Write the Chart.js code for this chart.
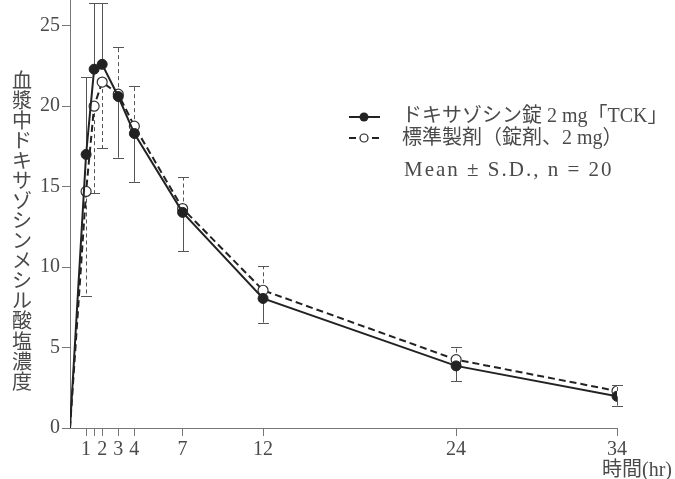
<!DOCTYPE html>
<html>
<head>
<meta charset="utf-8">
<script src="https://cdn.jsdelivr.net/npm/chart.js@4/dist/chart.umd.min.js"></script>
<style>
  html, body { margin: 0; padding: 0; background: #fff; }
  #wrap { width: 675px; height: 479px; }
</style>
</head>
<body>
<div id="wrap"><canvas id="pkChart" width="675" height="479"></canvas></div>
<script>
// sampling times (hr)
var times = [0, 1, 1.5, 2, 3, 4, 7, 12, 24, 34];

// ドキサゾシン錠2mg「TCK」
var tckMean = [0, 17.0, 22.3, 22.6, 20.6, 18.3, 13.4, 8.05, 3.86, 1.97];
var tckSD = [0, 4.8, 4.1, 3.8, 3.8, 3.0, 2.4, 1.5, 0.95, 0.58];
var tckSide = [0, 1, 1, 1, -1, -1, -1, -1, -1, -1];

// 標準製剤（錠剤、2mg）
var refMean = [0, 14.7, 20.0, 21.5, 20.75, 18.76, 13.64, 8.56, 4.25, 2.3];
var refSD = [0, 6.5, 5.4, 4.1, 2.9, 2.5, 1.95, 1.5, 0.8, 0.4];
var refSide = [0, -1, -1, -1, 1, 1, 1, 1, 1, 1];

var xTicks = [1, 1.5, 2, 3, 4, 7, 12, 24, 34];
var xTickLabels = ['1', '', '2', '3', '4', '7', '12', '24', '34'];
var yTicks = [0, 5, 10, 15, 20, 25];

var yTitle = '血漿中ドキサゾシンメシル酸塩濃度';
var xTitle = '時間(hr)';
var legendTck = 'ドキサゾシン錠 2 mg「TCK」';
var legendRef = '標準製剤（錠剤、2 mg）';
var noteText = 'Mean ± S.D., n = 20';

var numFont = '"Liberation Serif", "Noto Sans CJK JP", serif';
var ink = '#222';
var axisGrey = '#777';
var textGrey = '#4a4a4a';

function toPoints(mean) {
  return times.map(function(t, i) { return { x: t, y: mean[i] }; });
}

var errorBarPlugin = {
  id: 'errorBars',
  beforeDatasetsDraw: function(chart) {
    var ctx = chart.ctx;
    var xs = chart.scales.x, ys = chart.scales.y;
    var sets = [
      { mean: tckMean, sd: tckSD, side: tckSide, dash: [] },
      { mean: refMean, sd: refSD, side: refSide, dash: [4, 3] }
    ];
    ctx.save();
    ctx.strokeStyle = '#555';
    ctx.lineWidth = 1;
    sets.forEach(function(s) {
      ctx.setLineDash(s.dash);
      times.forEach(function(t, i) {
        if (!s.sd[i]) return;
        var px = Math.round(xs.getPixelForValue(t)) + 0.5;
        var y0 = ys.getPixelForValue(s.mean[i]);
        var y1 = ys.getPixelForValue(s.mean[i] + s.side[i] * s.sd[i]);
        ctx.beginPath();
        ctx.moveTo(px, y0);
        ctx.lineTo(px, y1);
        ctx.stroke();
        ctx.setLineDash([]);
        ctx.beginPath();
        ctx.moveTo(px - 5.5, Math.round(y1) + 0.5);
        ctx.lineTo(px + 5.5, Math.round(y1) + 0.5);
        ctx.stroke();
        ctx.setLineDash(s.dash);
      });
    });
    ctx.restore();
  }
};

var textPlugin = {
  id: 'extraText',
  afterDraw: function(chart) {
    var ctx = chart.ctx;
    ctx.save();
    // vertical y-axis title, upright characters
    ctx.fillStyle = textGrey;
    ctx.font = '20px "Noto Sans CJK JP"';
    ctx.textAlign = 'center';
    ctx.textBaseline = 'middle';
    Array.from(yTitle).forEach(function(ch, i) {
      ctx.fillText(ch, 22, 80 + i * 20.07);
    });

    // x-axis unit label
    ctx.font = '20px ' + numFont;
    ctx.textAlign = 'right';
    ctx.fillText(xTitle, 672, 471);

    // legend
    ctx.strokeStyle = ink;
    ctx.lineWidth = 2;
    ctx.beginPath();
    ctx.moveTo(349, 117);
    ctx.lineTo(380, 117);
    ctx.stroke();
    ctx.fillStyle = ink;
    ctx.beginPath();
    ctx.arc(364, 117, 4.5, 0, Math.PI * 2);
    ctx.fill();

    ctx.beginPath();
    ctx.moveTo(349, 138);
    ctx.lineTo(356, 138);
    ctx.moveTo(372, 138);
    ctx.lineTo(379, 138);
    ctx.stroke();
    ctx.lineWidth = 1.2;
    ctx.fillStyle = '#fff';
    ctx.beginPath();
    ctx.arc(364, 138, 4, 0, Math.PI * 2);
    ctx.fill();
    ctx.stroke();

    ctx.fillStyle = textGrey;
    ctx.textAlign = 'left';
    ctx.font = '20px ' + numFont;
    ctx.fillText(legendTck, 402, 117);
    ctx.fillText(legendRef, 402, 139);
    ctx.font = '21px ' + numFont;
    ctx.letterSpacing = '2px';
    ctx.fillText(noteText, 404, 170);
    ctx.restore();
  }
};

var ctx = document.getElementById('pkChart').getContext('2d');
var pkChart = new Chart(ctx, {
  type: 'line',
  data: {
    datasets: [{
      label: legendTck,
      data: toPoints(tckMean),
      borderColor: ink,
      borderWidth: 2,
      tension: 0,
      pointRadius: function(c) { return c.dataIndex === 0 ? 0 : 5; },
      pointBackgroundColor: ink,
      pointBorderColor: ink,
      pointBorderWidth: 1
    }, {
      label: legendRef,
      data: toPoints(refMean),
      borderColor: ink,
      borderWidth: 2,
      borderDash: [7, 4],
      tension: 0,
      pointRadius: function(c) { return c.dataIndex === 0 ? 0 : 5; },
      pointBackgroundColor: '#fff',
      pointBorderColor: '#333',
      pointBorderWidth: 1.2
    }]
  },
  options: {
    responsive: false,
    animation: false,
    devicePixelRatio: 1,
    layout: { autoPadding: false, padding: { left: 0, right: 58, top: 0, bottom: 0 } },
    plugins: {
      legend: { display: false },
      tooltip: { enabled: false }
    },
    scales: {
      x: {
        type: 'linear',
        min: 0,
        max: 34,
        afterBuildTicks: function(scale) { scale.ticks = xTicks.map(function(v) { return { value: v }; }); },
        afterFit: function(scale) {
          scale.height = 51;
          scale.paddingLeft = 0;
          scale.paddingRight = 0;
        },
        grid: { drawOnChartArea: false, drawTicks: true, tickLength: 8, color: axisGrey },
        border: { display: true, color: axisGrey, width: 1 },
        ticks: {
          autoSkip: false,
          maxRotation: 0,
          padding: 2,
          color: textGrey,
          font: { family: numFont, size: 20 },
          callback: function(v) { var i = xTicks.indexOf(v); return i >= 0 ? xTickLabels[i] : ''; }
        }
      },
      y: {
        min: 0,
        max: 26.6,
        afterBuildTicks: function(scale) { scale.ticks = yTicks.map(function(v) { return { value: v }; }); },
        afterFit: function(scale) {
          scale.width = 70;
          scale.paddingTop = 0;
          scale.paddingBottom = 0;
        },
        grid: { drawOnChartArea: false, drawTicks: true, tickLength: 8, color: axisGrey },
        border: { display: true, color: axisGrey, width: 1 },
        ticks: {
          padding: 2,
          color: textGrey,
          font: { family: numFont, size: 20 }
        }
      }
    }
  },
  plugins: [errorBarPlugin, textPlugin]
});
</script>
</body>
</html>
